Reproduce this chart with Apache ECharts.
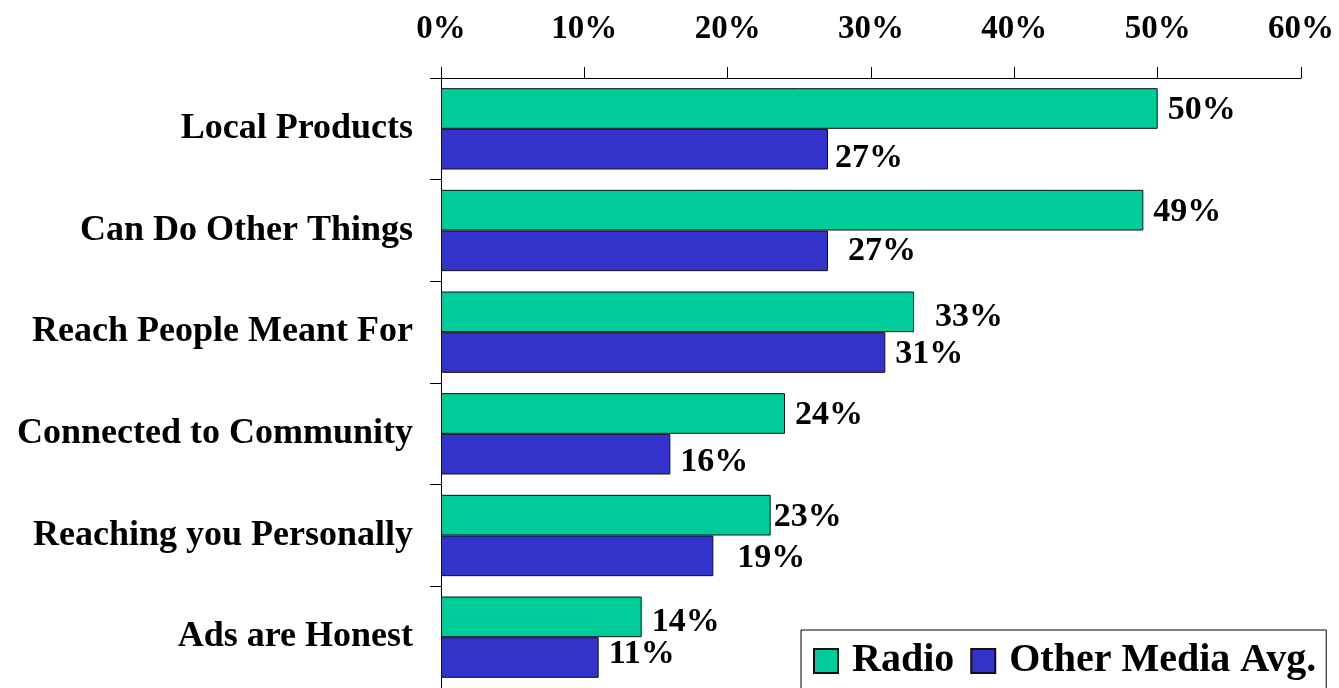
<!DOCTYPE html>
<html>
<head>
<meta charset="utf-8">
<script src="https://cdn.jsdelivr.net/npm/echarts@6/dist/echarts.min.js"></script>
<style>
  html, body { margin: 0; padding: 0; background: #ffffff; }
  #chart { width: 1339px; height: 688px; }
</style>
</head>
<body>
<div id="chart"></div>
<script>
// Survey attributes, top to bottom
const categories = [
  'Local Products',
  'Can Do Other Things',
  'Reach People Meant For',
  'Connected to Community',
  'Reaching you Personally',
  'Ads are Honest'
];
// Share of respondents (%)
const radio = [50, 49, 33, 24, 23, 14];
const otherMedia = [27, 27, 31, 16, 19, 11];
const seriesNames = ['Radio', 'Other Media Avg.'];
// Percentage scale along the top
const axisTicks = [0, 10, 20, 30, 40, 50, 60];

// Small per-label nudges [dx, dy] for the value labels
const radioLabelShift = [[0, 2], [0, 2], [11, 5], [0, 2], [-7, 2], [0, 5]];
const otherLabelShift = [[-3, 9], [10, 0], [0, 2], [0, 8], [14, 2], [0, -3]];

const FONT = '"Liberation Serif", "Times New Roman", serif';
const GREEN = '#00CC99';
const BLUE = '#3333CC';

function withShift(values, shifts) {
  return values.map((v, i) => ({ value: v, label: { offset: shifts[i] } }));
}

const chart = echarts.init(document.getElementById('chart'), null, { renderer: 'canvas' });

chart.setOption({
  animation: false,
  backgroundColor: '#ffffff',
  grid: { left: 441, right: 38, top: 78, bottom: 0, containLabel: false },
  xAxis: {
    type: 'value',
    position: 'top',
    min: axisTicks[0],
    max: axisTicks[axisTicks.length - 1],
    interval: axisTicks[1] - axisTicks[0],
    axisLine: { show: true, lineStyle: { color: '#000', width: 1 } },
    axisTick: { show: true, length: 11, lineStyle: { color: '#000', width: 1 } },
    splitLine: { show: false },
    axisLabel: {
      formatter: '{value}%',
      margin: 32,
      color: '#000',
      fontFamily: FONT,
      fontWeight: 'bold',
      fontSize: 33
    }
  },
  yAxis: {
    type: 'category',
    inverse: true,
    data: categories,
    axisLine: { show: true, lineStyle: { color: '#000', width: 1 } },
    axisTick: { show: true, length: 11, alignWithLabel: false, lineStyle: { color: '#000', width: 1 } },
    axisLabel: {
      margin: 28,
      padding: [4, 0, 0, 0],
      color: '#000',
      fontFamily: FONT,
      fontWeight: 'bold',
      fontSize: 36
    }
  },
  legend: {
    left: 801,
    top: 630,
    orient: 'horizontal',
    data: seriesNames,
    backgroundColor: '#ffffff',
    borderColor: '#000',
    borderWidth: 1,
    borderRadius: 0,
    padding: [11, 10, 40, 12],
    itemWidth: 24,
    itemHeight: 24,
    itemGap: 16,
    icon: 'rect',
    textStyle: {
      color: '#000',
      fontFamily: FONT,
      fontWeight: 'bold',
      fontSize: 40,
      padding: [0, 0, 0, 9]
    }
  },
  series: [
    {
      name: seriesNames[0],
      type: 'bar',
      data: withShift(radio, radioLabelShift),
      barGap: '0%',
      barCategoryGap: '20%',
      itemStyle: { color: GREEN, borderColor: '#111', borderWidth: 1 },
      label: {
        show: true,
        position: 'right',
        distance: 10,
        formatter: '{c}%',
        color: '#000',
        fontFamily: FONT,
        fontWeight: 'bold',
        fontSize: 34
      }
    },
    {
      name: seriesNames[1],
      type: 'bar',
      data: withShift(otherMedia, otherLabelShift),
      barGap: '0%',
      barCategoryGap: '20%',
      itemStyle: { color: BLUE, borderColor: '#111', borderWidth: 1 },
      label: {
        show: true,
        position: 'right',
        distance: 10,
        formatter: '{c}%',
        color: '#000',
        fontFamily: FONT,
        fontWeight: 'bold',
        fontSize: 34
      }
    }
  ]
});
</script>
</body>
</html>
